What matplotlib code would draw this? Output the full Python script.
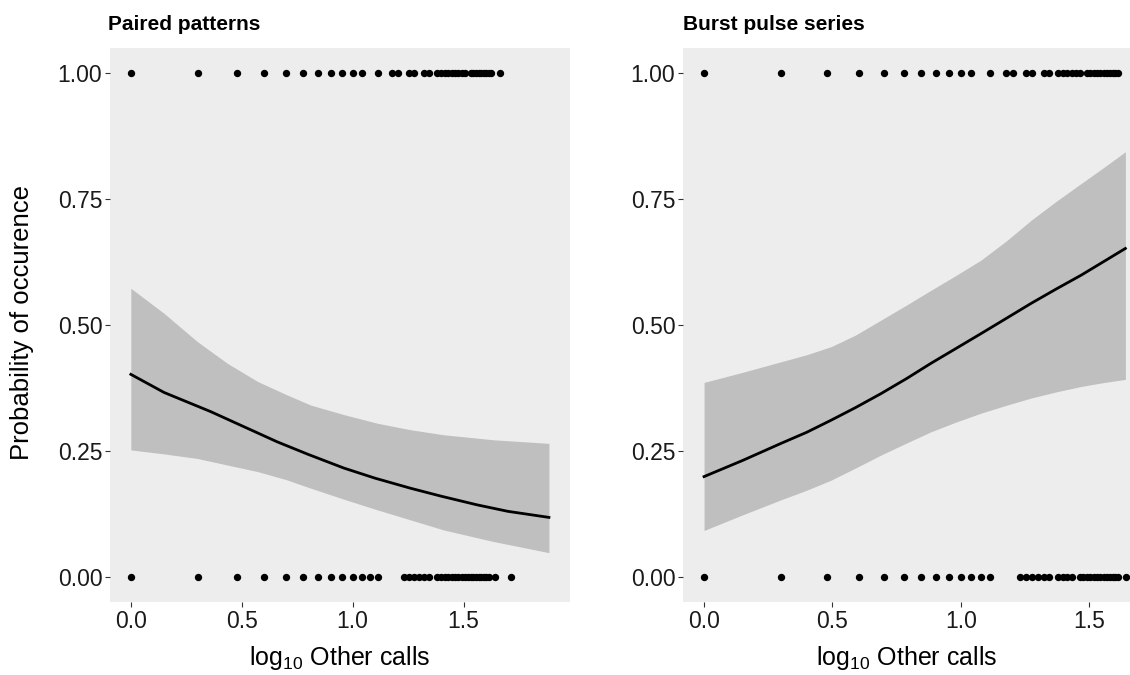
import numpy as np
import matplotlib
matplotlib.use("Agg")
import matplotlib.pyplot as plt

plt.rcParams['font.family'] = ['Liberation Sans', 'DejaVu Sans']
plt.rcParams['mathtext.fontset'] = 'custom'
plt.rcParams['mathtext.rm'] = 'Liberation Sans'
plt.rcParams['mathtext.default'] = 'regular'

# -----------------------------
# Data
# -----------------------------
# counts of other calls where the pattern occurred (1) / did not occur (0)
paired_yes = [1, 2, 3, 4, 5, 6, 7, 8, 9, 10, 11, 13, 15, 16, 18, 19, 21, 22,
              24, 25, 26, 27, 28, 29, 30, 31, 32, 34, 35, 36, 37, 38, 39, 40, 41, 42, 46]
paired_no = [1, 2, 3, 4, 5, 6, 7, 8, 9, 10, 11, 12, 13, 17, 18, 19, 20, 21, 22,
             24, 25, 26, 27, 28, 29, 30, 31, 32, 33, 34, 35, 36, 37, 38, 39, 40, 41, 44, 52]
burst_yes = [1, 2, 3, 4, 5, 6, 7, 8, 9, 10, 11, 13, 15, 16, 18, 19, 21, 22,
             24, 25, 26, 27, 28, 29, 31, 32, 33, 34, 35, 36, 37, 38, 39, 40, 41]
burst_no = [1, 2, 3, 4, 5, 6, 7, 8, 9, 10, 11, 12, 13, 17, 18, 19, 20, 21, 22,
            24, 25, 26, 27, 29, 30, 31, 32, 33, 34, 35, 36, 37, 38, 39, 40, 41, 44]

# fitted curve, paired patterns
paired_fit_x = [0.0, 0.15, 0.36, 0.5, 0.66, 0.8, 0.96, 1.1, 1.26, 1.4, 1.56, 1.7, 1.885]
paired_fit_y = [0.402, 0.366, 0.328, 0.300, 0.268, 0.243, 0.216, 0.196, 0.176, 0.160, 0.143, 0.130, 0.118]
paired_ci_x = [0.0, 0.15, 0.30, 0.435, 0.571, 0.70, 0.811, 0.961, 1.111, 1.261, 1.411, 1.636, 1.885]
paired_ci_hi = [0.573, 0.523, 0.467, 0.424, 0.388, 0.362, 0.341, 0.322, 0.305, 0.292, 0.282, 0.272, 0.265]
paired_ci_lo = [0.252, 0.244, 0.235, 0.222, 0.209, 0.193, 0.176, 0.154, 0.133, 0.113, 0.093, 0.070, 0.048]

# fitted curve, burst pulse series
burst_x = [0.0, 0.15, 0.30, 0.40, 0.495, 0.59, 0.69, 0.79, 0.884, 0.98, 1.079,
           1.18, 1.274, 1.37, 1.469, 1.56, 1.641]
burst_fit = [0.199, 0.231, 0.265, 0.287, 0.311, 0.336, 0.364, 0.394, 0.424, 0.453, 0.483,
             0.514, 0.543, 0.571, 0.599, 0.627, 0.652]
burst_hi = [0.386, 0.406, 0.427, 0.441, 0.457, 0.480, 0.510, 0.540, 0.569, 0.598, 0.629,
            0.668, 0.708, 0.745, 0.781, 0.814, 0.844]
burst_lo = [0.092, 0.123, 0.153, 0.172, 0.192, 0.216, 0.242, 0.266, 0.288, 0.307, 0.325,
            0.341, 0.355, 0.367, 0.378, 0.386, 0.392]

y_ticks = [0.0, 0.25, 0.5, 0.75, 1.0]
y_labels = ["0.00", "0.25", "0.50", "0.75", "1.00"]
x_ticks = [0.0, 0.5, 1.0, 1.5]
x_labels = ["0.0", "0.5", "1.0", "1.5"]

# -----------------------------
# Plot
# -----------------------------
W, H = 1130, 675
fig = plt.figure(figsize=(W / 100, H / 100), dpi=100)

ax1 = fig.add_axes([110 / W, 1 - 602 / H, 460 / W, 554 / H])
ax2 = fig.add_axes([683 / W, 1 - 602 / H, 447 / W, 554 / H])

panels = [
    (ax1, paired_yes, paired_no, paired_fit_x, paired_fit_y, paired_ci_x, paired_ci_hi, paired_ci_lo, (-0.094, 1.98)),
    (ax2, burst_yes, burst_no, burst_x, burst_fit, burst_x, burst_hi, burst_lo, (-0.082, 1.659)),
]

for ax, yes, no, fx, fy, cx, chi, clo, xl in panels:
    ax.set_facecolor('#ededed')
    ax.fill_between(cx, clo, chi, color='#bfbfbf', linewidth=0, zorder=1)
    ax.plot(fx, fy, color='black', linewidth=2.0, zorder=2)
    ax.scatter(np.log10(yes), np.ones(len(yes)), s=28, color='black', linewidths=0, zorder=3)
    ax.scatter(np.log10(no), np.zeros(len(no)), s=28, color='black', linewidths=0, zorder=3)
    ax.set_xlim(*xl)
    ax.set_ylim(-0.05, 1.05)
    ax.set_xticks(x_ticks)
    ax.set_xticklabels(x_labels)
    ax.set_yticks(y_ticks)
    ax.set_yticklabels(y_labels)
    ax.tick_params(axis='both', labelsize=16.5, length=3.5, width=0.8,
                   color='#333333', labelcolor='#1a1a1a', pad=2)
    for s in ax.spines.values():
        s.set_visible(False)
    ax.set_xlabel(r'log$_{10}$ Other calls', fontsize=18, labelpad=8)

fig.text(108 / W, 1 - 25 / H, "Paired patterns", fontsize=15, fontweight='bold',
         ha='left', va='center')
fig.text(683 / W, 1 - 25 / H, "Burst pulse series", fontsize=15, fontweight='bold',
         ha='left', va='center')
fig.text(22 / W, 1 - 322 / H, "Probability of occurence", fontsize=18.5,
         rotation=90, ha='center', va='center')

plt.savefig("out.png", dpi=100)
